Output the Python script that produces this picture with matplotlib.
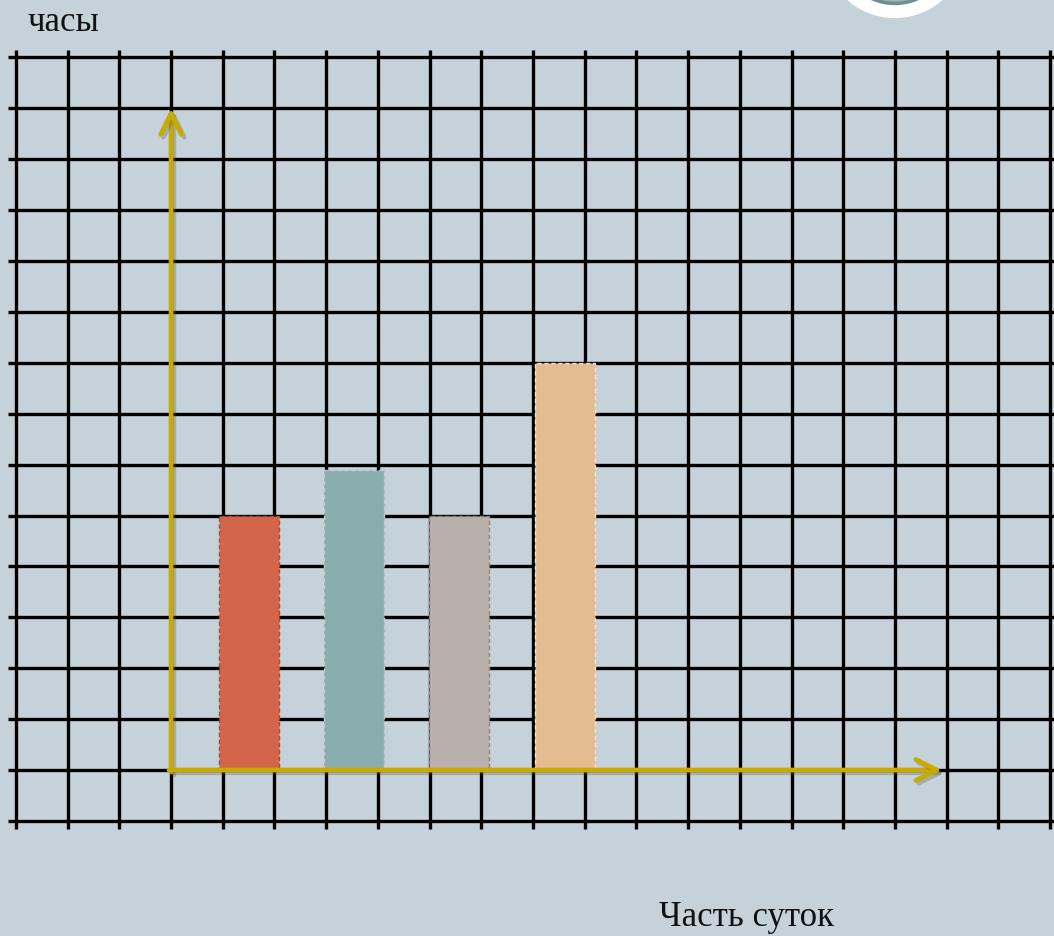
import matplotlib
matplotlib.use("Agg")
import matplotlib.pyplot as plt
import matplotlib.patheffects as pe
from matplotlib.patches import Ellipse
import numpy as np

# часы по частям суток (в клетках)
parts = ["утро", "день", "вечер", "ночь"]
hours = [5, 5.9, 5, 8]
colors = ["#d3654b", "#8aaead", "#b9b0ab", "#e4bc91"]
edges = ["#a94c37", "#c0cccc", "#8c8480", "#f6e6cf"]

y_label = "часы"
x_label = "Часть суток"

bg = "#c6d2d9"
yellow = "#c8aa00"

fig = plt.figure(figsize=(10.54, 9.36), dpi=100, facecolor=bg)
ax = fig.add_axes([0, 0, 1, 1])
ax.set_facecolor(bg)
ax.set_xlim(-3.309, 17.077)
ax.set_ylim(-3.261, 15.128)
ax.axis("off")

# клетчатая сетка
for gx in range(-3, 18):
    ax.plot([gx, gx], [-1.16, 14.15], color="black", lw=2.4, zorder=1,
            solid_capstyle="butt")
for gy in range(-1, 15):
    ax.plot([-3.155, 17.1], [gy, gy], color="black", lw=2.4, zorder=1,
            solid_capstyle="butt")

# столбики
pos = 1.507 + np.arange(len(hours)) * 2.035
for i in range(len(hours)):
    ax.bar(pos[i], hours[i], width=1.16, bottom=0, color=colors[i],
           edgecolor=edges[i], linewidth=1.0, linestyle=(0, (3, 2)), zorder=2)

# оси со стрелками
shadow = [pe.SimpleLineShadow(offset=(2, -2), alpha=0.3, shadow_color="#555555"), pe.Normal()]
arrow = "->,head_length=1.5,head_width=0.75"
ax.annotate("", xy=(0, 13.0), xytext=(0, -0.04),
            arrowprops=dict(arrowstyle=arrow, color=yellow, lw=3.4,
                            shrinkA=0, shrinkB=0, path_effects=shadow), zorder=3)
ax.annotate("", xy=(14.91, 0), xytext=(-0.04, 0),
            arrowprops=dict(arrowstyle=arrow, color=yellow, lw=3.4,
                            shrinkA=0, shrinkB=0, path_effects=shadow), zorder=3)

# подписи
ax.text(-2.768, 14.52, y_label, fontsize=25, family="Liberation Serif",
        color="#111111", ha="left", va="baseline")
ax.text(9.437, -3.07, x_label, fontsize=25, family="Liberation Serif",
        color="#111111", ha="left", va="baseline")

# кружок в углу
cx, cy = 14.0, 16.18
ax.add_patch(Ellipse((cx, cy), 2 * 71 / 51.7, 2 * 71 / 50.9, color="white", zorder=4))
ax.add_patch(Ellipse((cx, cy), 2 * 57 / 51.7, 2 * 57 / 50.9, facecolor="#9fb5b3",
                     edgecolor="#6e8f8c", lw=2.5, zorder=5))

fig.savefig("out.png", dpi=100, facecolor=bg)
